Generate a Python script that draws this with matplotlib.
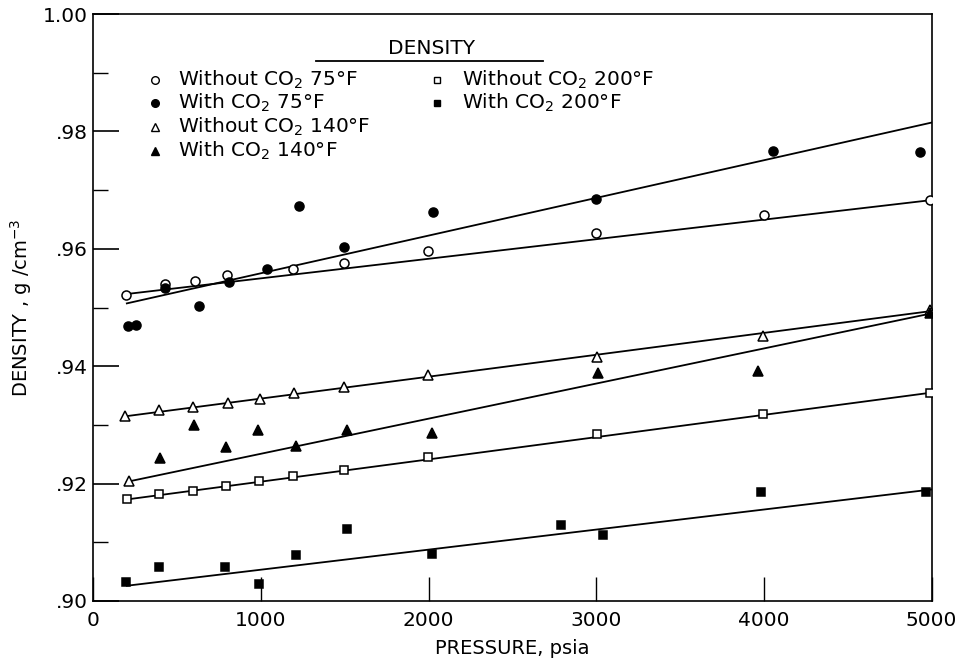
import matplotlib
matplotlib.use("Agg")
import matplotlib.pyplot as plt

# ---------------- data ----------------
p_wo75 = [195, 425, 605, 800, 1190, 1495, 1995, 3000, 4000, 4990]
d_wo75 = [0.9522, 0.9540, 0.9545, 0.9555, 0.9565, 0.9576, 0.9597, 0.9627, 0.9658, 0.9683]

p_w75 = [209, 255, 426, 632, 811, 1034, 1225, 1495, 2027, 2998, 4057, 4934]
d_w75 = [0.9468, 0.9471, 0.9533, 0.9503, 0.9544, 0.9565, 0.9673, 0.9603, 0.9663, 0.9684, 0.9766, 0.9765]

p_wo140 = [189, 210, 394, 596, 805, 994, 1199, 1495, 1998, 3007, 3996, 4990]
d_wo140 = [0.9316, 0.9205, 0.9325, 0.9331, 0.9338, 0.9344, 0.9354, 0.9365, 0.9385, 0.9415, 0.9452, 0.9496]

p_w140 = [395, 598, 792, 980, 1209, 1516, 2018, 3012, 3966, 4990]
d_w140 = [0.9243, 0.9300, 0.9262, 0.9292, 0.9264, 0.9291, 0.9286, 0.9388, 0.9391, 0.9491]

p_wo200 = [203, 394, 593, 789, 988, 1193, 1495, 1994, 3005, 3996, 4994]
d_wo200 = [0.9174, 0.9182, 0.9188, 0.9196, 0.9204, 0.9213, 0.9223, 0.9246, 0.9284, 0.9319, 0.9355]

p_w200 = [195, 392, 787, 988, 1211, 1511, 2018, 2787, 3039, 3981, 4970]
d_w200 = [0.9032, 0.9058, 0.9058, 0.9029, 0.9078, 0.9123, 0.9080, 0.9130, 0.9113, 0.9186, 0.9185]

# fitted straight lines (pressure ends, density ends)
fit_p = [200, 5000]
fit_wo75 = [0.9523, 0.9683]
fit_w75 = [0.9507, 0.9815]
fit_wo140 = [0.9315, 0.9494]
fit_w140 = [0.9203, 0.9490]
fit_wo200 = [0.9173, 0.9355]
fit_w200 = [0.9026, 0.9190]

labels = ["Without CO$_2$ 75°F", "With CO$_2$ 75°F", "Without CO$_2$ 140°F",
          "With CO$_2$ 140°F", "Without CO$_2$ 200°F", "With CO$_2$ 200°F"]

x_ticks = [0, 1000, 2000, 3000, 4000, 5000]
y_ticks = [0.90, 0.92, 0.94, 0.96, 0.98, 1.00]
y_tick_labels = [".90", ".92", ".94", ".96", ".98", "1.00"]
y_minor = [0.91, 0.93, 0.95, 0.97, 0.99]

# ---------------- figure ----------------
plt.rcParams['font.family'] = ['DejaVu Sans']
plt.rcParams['mathtext.fontset'] = 'dejavusans'

fig = plt.figure(figsize=(9.68, 6.63), dpi=100)
ax = fig.add_axes([93.3 / 968, 1 - 601 / 663, 838.2 / 968, 587 / 663])

lw = 1.3
for fyv in [fit_wo75, fit_w75, fit_wo140, fit_w140, fit_wo200, fit_w200]:
    ax.plot(fit_p, fyv, color='black', lw=lw, zorder=2)

series = [
    (p_wo75, d_wo75, 'o', 'white', 6.5),
    (p_w75, d_w75, 'o', 'black', 6.5),
    (p_wo140, d_wo140, '^', 'white', 6.5),
    (p_w140, d_w140, '^', 'black', 7),
    (p_wo200, d_wo200, 's', 'white', 5.5),
    (p_w200, d_w200, 's', 'black', 6),
]
for px, py, m, fc, ms in series:
    ax.plot(px, py, linestyle='none', marker=m, markerfacecolor=fc,
            markeredgecolor='black', markeredgewidth=1.1, markersize=ms, zorder=3)

ax.set_xlim(0, 5000)
ax.set_ylim(0.90, 1.00)
ax.set_xticks(x_ticks)
ax.set_xticklabels([str(t) for t in x_ticks])
ax.set_yticks(y_ticks)
ax.set_yticklabels(y_tick_labels)
ax.set_yticks(y_minor, minor=True)
ax.tick_params(axis='x', which='major', direction='in', length=17, width=1.0,
               labelsize=14.5, pad=7)
ax.tick_params(axis='y', which='major', direction='in', length=19, width=1.2,
               labelsize=14.5, pad=4)
ax.tick_params(axis='y', which='minor', direction='in', length=11, width=1.0)
for s in ax.spines.values():
    s.set_linewidth(1.2)

ax.set_xlabel("PRESSURE, psia", fontsize=14, labelpad=7)
ax.set_ylabel("DENSITY , g /cm$^{-3}$", fontsize=14, labelpad=6)

# ---------------- legend (manual) ----------------
def fx(px):
    return (px - 93.3) / 838.2

def fy(py):
    return (601 - py) / 587

ax.text(fx(432), fy(49), "DENSITY", transform=ax.transAxes, ha='center',
        va='center', fontsize=14.5)
ax.plot([fx(316), fx(543)], [fy(61), fy(61)], transform=ax.transAxes,
        color='black', lw=1.3, clip_on=False)

legend_cols = [(155, 178), (155, 178), (155, 178), (155, 178), (437, 462), (437, 462)]
legend_rows = [80, 103, 127, 151, 80, 103]
for (mx, tx), ry, (px, py, m, fc, ms), lab in zip(legend_cols, legend_rows, series, labels):
    ax.plot([fx(mx)], [fy(ry)], transform=ax.transAxes, linestyle='none',
            marker=m, markerfacecolor=fc, markeredgecolor='black',
            markeredgewidth=1.0, markersize=ms - 1, clip_on=False)
    ax.text(fx(tx), fy(ry + 6), lab, transform=ax.transAxes, ha='left',
            va='baseline', fontsize=14.5)

fig.savefig("out.png", dpi=100, facecolor='white')
